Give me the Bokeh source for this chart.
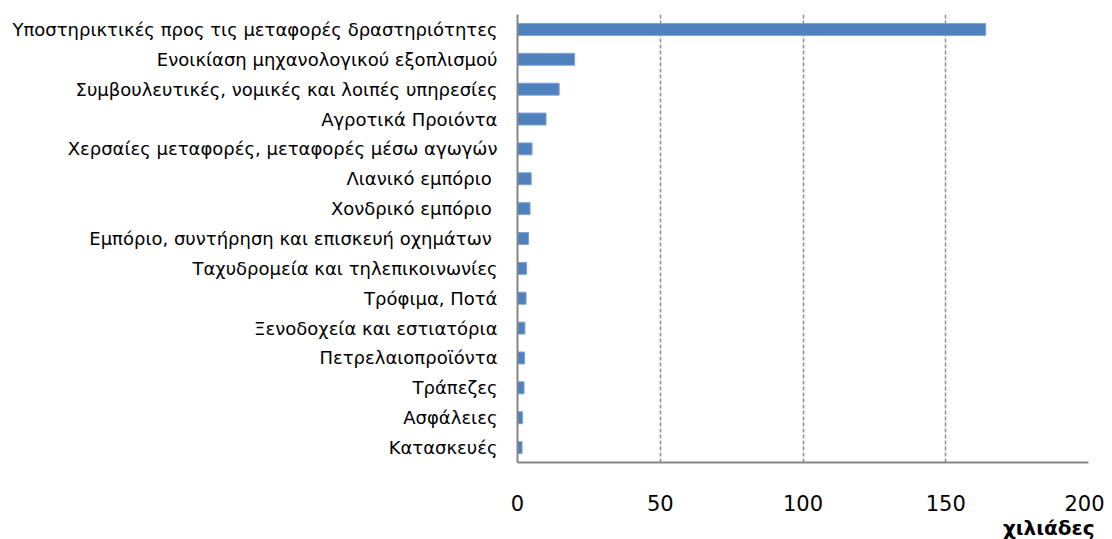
from bokeh.plotting import figure
from bokeh.models import FactorRange, Range1d, FixedTicker, Title
from bokeh.embed import file_html
from bokeh.resources import INLINE

categories = [
    "Υποστηρικτικές προς τις μεταφορές δραστηριότητες",
    "Ενοικίαση μηχανολογικού εξοπλισμού",
    "Συμβουλευτικές, νομικές και λοιπές υπηρεσίες",
    "Αγροτικά Προιόντα",
    "Χερσαίες μεταφορές, μεταφορές μέσω αγωγών",
    "Λιανικό εμπόριο ",
    "Χονδρικό εμπόριο ",
    "Εμπόριο, συντήρηση και επισκευή οχημάτων ",
    "Ταχυδρομεία και τηλεπικοινωνίες",
    "Τρόφιμα, Ποτά",
    "Ξενοδοχεία και εστιατόρια",
    "Πετρελαιοπροϊόντα",
    "Τράπεζες",
    "Ασφάλειες",
    "Κατασκευές",
]
values = [164, 20, 14.6, 10.0, 5.1, 4.8, 4.4, 3.9, 3.2, 3.0, 2.6, 2.5, 2.3, 1.8, 1.6]
x_ticks = [0, 50, 100, 150, 200]
unit_label = "χιλιάδες"

FONT = "DejaVu Sans"

p = figure(
    width=1104, height=539,
    y_range=FactorRange(*list(reversed(categories)), range_padding=0),
    x_range=Range1d(0, 200),
    output_backend="svg", toolbar_location=None,
    min_border_left=517, min_border_right=16, min_border_top=14, min_border_bottom=77,
)
p.outline_line_color = None
p.background_fill_color = "white"

p.hbar(y=categories, right=values, left=0, height=0.4,
       fill_color="#4F81BD", line_color="#7EA3D4", line_width=1)

# x axis
p.xaxis.ticker = FixedTicker(ticks=x_ticks)
p.xaxis.major_tick_line_color = None
p.xaxis.minor_tick_line_color = None
p.xaxis.axis_line_color = "#868686"
p.xaxis.axis_line_width = 2
p.xaxis.major_label_text_font = FONT
p.xaxis.major_label_text_font_size = "21px"
p.xaxis.major_label_text_color = "black"
p.xaxis.major_label_standoff = 26

# y axis
p.yaxis.major_tick_line_color = None
p.yaxis.minor_tick_line_color = None
p.yaxis.axis_line_color = "#868686"
p.yaxis.axis_line_width = 2
p.yaxis.major_label_text_font = FONT
p.yaxis.major_label_text_font_size = "18px"
p.yaxis.major_label_text_color = "black"
p.yaxis.major_label_standoff = 14

# grid
p.ygrid.grid_line_color = None
p.xgrid.grid_line_color = "#8C8C8C"
p.xgrid.grid_line_dash = "4 2"
p.xgrid.grid_line_width = 1.5

t = Title(text=unit_label, align="right", text_font=FONT, text_font_size="20px",
          text_font_style="bold", text_color="black", standoff=0, offset=-6)
p.add_layout(t, "below")

open("out.html", "w").write(file_html(p, INLINE))
